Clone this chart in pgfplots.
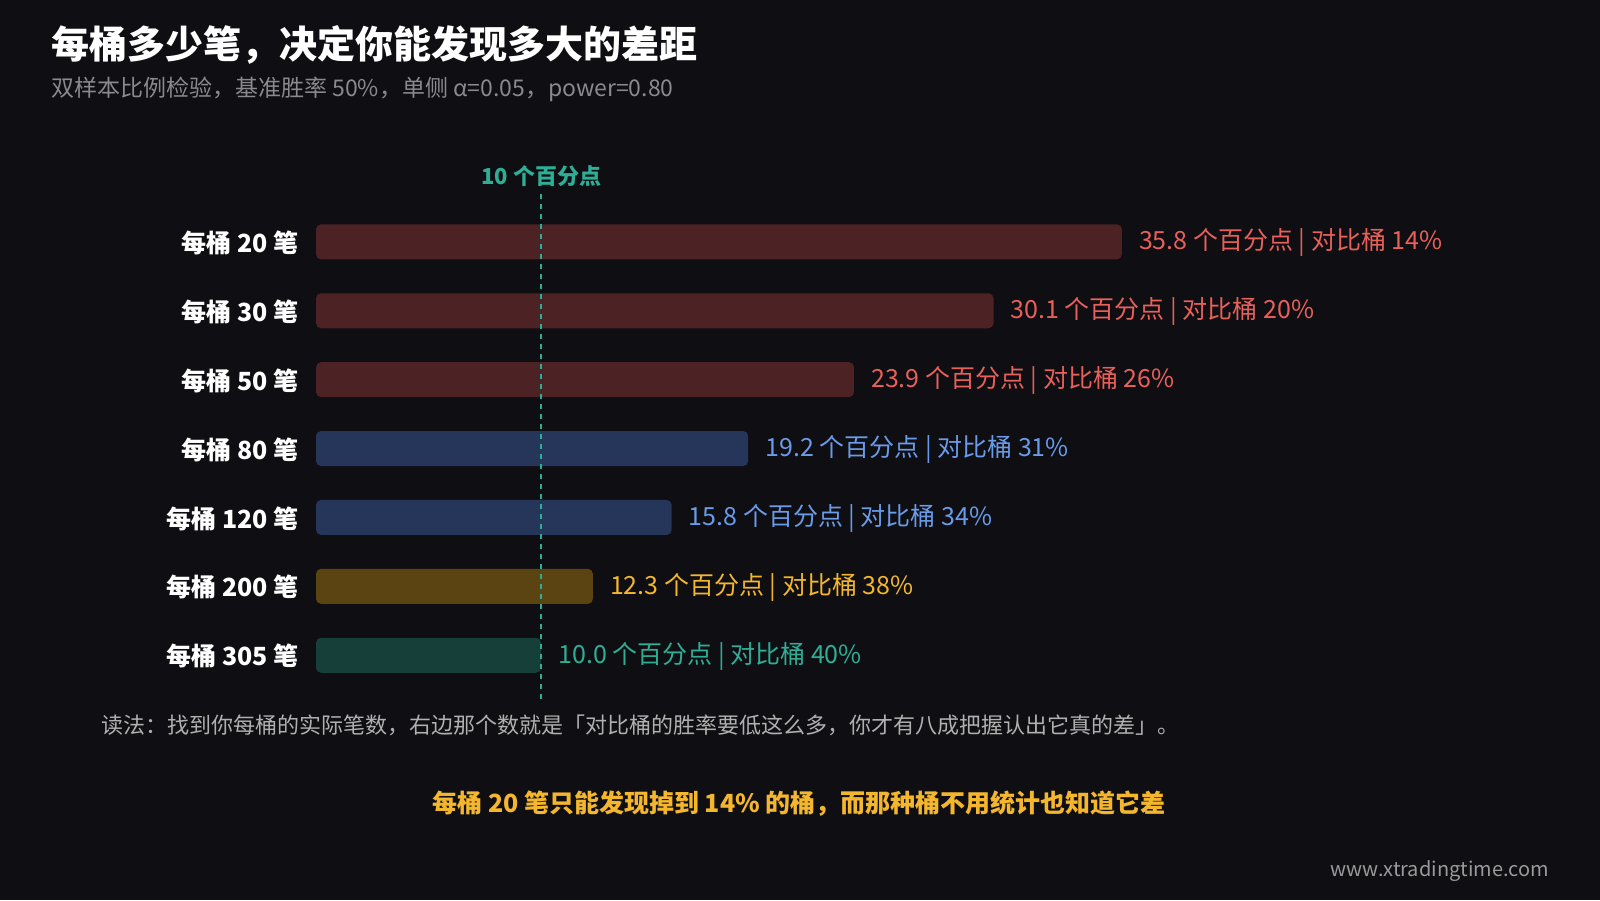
\documentclass[border=0pt]{standalone}
\usepackage{fontspec}
\setmainfont{Noto Sans CJK SC}
\usepackage{pgfplots}
\pgfplotsset{compat=1.18}
\definecolor{bg}{HTML}{0E0E13}
\definecolor{redbar}{HTML}{4C2225}
\definecolor{redtxt}{HTML}{E8605A}
\definecolor{bluebar}{HTML}{26355A}
\definecolor{bluetxt}{HTML}{6A9BE8}
\definecolor{yelbar}{HTML}{5C4412}
\definecolor{yeltxt}{HTML}{F4B62C}
\definecolor{tealbar}{HTML}{163F3A}
\definecolor{tealtxt}{HTML}{2FAE96}
\definecolor{subgray}{HTML}{8A8A8E}
\definecolor{notegray}{HTML}{B0B0B0}
\definecolor{wmgray}{HTML}{9A9A9A}
\begin{document}
\begin{tikzpicture}[x=1pt,y=1pt]
\fill[bg] (0,0) rectangle (1600,900);
\node[anchor=west, text=white, font=\fontsize{38}{44}\selectfont\bfseries, inner sep=0pt] at (51,855) {每桶多少笔，决定你能发现多大的差距};
\node[anchor=west, text=subgray, font=\fontsize{23}{26}\selectfont, inner sep=0pt] at (51,811) {双样本比例检验，基准胜率 50\%，单侧 α=0.05，power=0.80};
\begin{axis}[
  at={(316pt,210.3pt)}, anchor=south west,
  scale only axis, width=900.4pt, height=482.3pt,
  xmin=0, xmax=40, ymin=-0.5, ymax=6.5, y dir=reverse,
  clip=false,
  axis line style={draw=none},
  major tick length=0pt,
  xtick=\empty,
  ytick={0,1,2,3,4,5,6},
  yticklabels={每桶 20 笔,每桶 30 笔,每桶 50 笔,每桶 80 笔,每桶 120 笔,每桶 200 笔,每桶 305 笔},
  yticklabel style={anchor=east, inner sep=0pt, xshift=-17pt, yshift=-1pt, text=white, font=\fontsize{25}{28}\selectfont\bfseries},
  xbar, bar width=35pt, bar shift=0pt,
  point meta=explicit symbolic,
  nodes near coords,
  every node near coord/.append style={anchor=west, inner sep=0pt, xshift=17pt, yshift=-1pt, font=\fontsize{25}{28}\selectfont},
]
\addplot[draw=none, fill=redbar, rounded corners=5pt, every node near coord/.append style={text=redtxt}] coordinates {
  (35.8,0) [{35.8 个百分点 | 对比桶 14\%}]
  (30.1,1) [{30.1 个百分点 | 对比桶 20\%}]
  (23.9,2) [{23.9 个百分点 | 对比桶 26\%}]
};
\addplot[draw=none, fill=bluebar, rounded corners=5pt, every node near coord/.append style={text=bluetxt}] coordinates {
  (19.2,3) [{19.2 个百分点 | 对比桶 31\%}]
  (15.8,4) [{15.8 个百分点 | 对比桶 34\%}]
};
\addplot[draw=none, fill=yelbar, rounded corners=5pt, every node near coord/.append style={text=yeltxt}] coordinates {
  (12.3,5) [{12.3 个百分点 | 对比桶 38\%}]
};
\addplot[draw=none, fill=tealbar, rounded corners=5pt, every node near coord/.append style={text=tealtxt}] coordinates {
  (10.0,6) [{10.0 个百分点 | 对比桶 40\%}]
};
\addplot[sharp plot, no marks, nodes near coords={}, draw=tealtxt, line width=2pt, dash pattern=on 5pt off 5pt] coordinates {(10,-0.69) (10,6.68)};
\node[text=tealtxt, font=\fontsize{22}{26}\selectfont\bfseries, inner sep=0pt] at (axis cs:10,-0.95) {10 个百分点};
\end{axis}
\node[anchor=west, text=notegray, font=\fontsize{22}{26}\selectfont, inner sep=0pt] at (101,174.5) {读法：找到你每桶的实际笔数，右边那个数就是「对比桶的胜率要低这么多，你才有八成把握认出它真的差」。};
\node[text=yeltxt, font=\fontsize{25}{28}\selectfont\bfseries, inner sep=0pt] at (799,96) {每桶 20 笔只能发现掉到 14\% 的桶，而那种桶不用统计也知道它差};
\node[anchor=east, text=wmgray, font=\fontsize{20}{24}\selectfont, inner sep=0pt] at (1549,29) {www.xtradingtime.com};
\end{tikzpicture}
\end{document}
